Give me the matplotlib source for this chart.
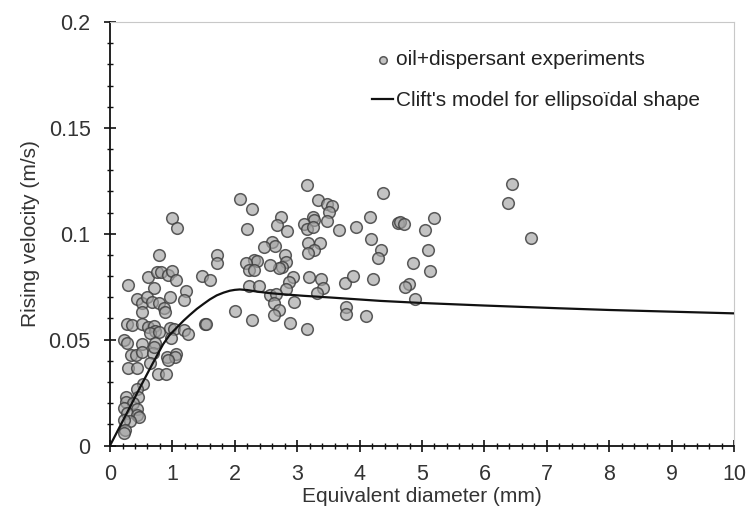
import matplotlib
matplotlib.use('Agg')
import matplotlib.pyplot as plt
from matplotlib.ticker import MultipleLocator

plt.rcParams['font.family'] = ['Liberation Sans', 'DejaVu Sans']

# эксперименты: эквивалентный диаметр (мм) и скорость всплытия (м/с)
diam_mm = [
    1.00, 1.07, 0.79, 0.28, 0.61, 0.76, 0.82, 0.93, 1.00, 1.06,
    0.705, 0.44, 0.51, 0.59, 0.68, 0.79, 0.865, 0.88, 0.96, 0.51,
    1.22, 1.19, 1.52, 0.27, 0.35, 0.51, 0.61, 0.70, 0.72, 0.64,
    0.79, 0.96, 1.03, 0.97, 1.19, 1.245, 0.22, 0.27, 0.52, 0.72,
    0.33, 0.42, 0.51, 0.69, 0.70, 0.91, 1.06, 1.04, 0.93, 0.64,
    0.29, 0.43, 0.77, 0.90, 0.53, 0.43, 0.26, 0.45, 0.26, 0.37,
    0.22, 0.44, 0.27, 0.44, 0.47, 0.32, 0.22, 0.24, 0.22,
    1.47, 1.61, 1.71, 1.72,
    3.15, 2.08, 2.28, 4.37, 3.34, 3.47, 3.55, 3.51, 3.47, 3.26,
    3.27, 3.11, 3.15, 3.26, 2.74, 2.67, 2.83, 2.19, 3.67, 3.94,
    4.17, 4.18, 4.35, 4.29, 4.62, 2.60, 2.64, 2.46, 3.18, 3.37,
    3.27, 3.17, 2.80, 2.82, 2.75, 2.70, 2.56, 2.31, 2.36, 2.18,
    2.23, 2.30, 2.93, 2.87, 2.82, 2.22, 2.39, 3.19, 3.38, 3.41,
    3.31, 3.77, 3.90, 4.22, 2.56, 2.66, 2.63, 2.95, 2.71, 2.63,
    3.78, 3.78, 4.10, 2.00, 2.27, 1.54, 2.89, 3.15,
    6.45, 6.38, 6.74, 4.65, 4.71, 5.19, 5.04, 5.09, 4.86, 5.12,
    4.79, 4.73, 4.88,
]
velocity_ms = [
    0.1076, 0.1029, 0.0899, 0.0757, 0.0796, 0.0820, 0.0820, 0.0804, 0.0825, 0.0781,
    0.0744, 0.0690, 0.0674, 0.0702, 0.0677, 0.0674, 0.0647, 0.0632, 0.0702, 0.0631,
    0.0730, 0.0686, 0.0573, 0.0573, 0.0569, 0.0573, 0.0560, 0.0563, 0.0542, 0.0533,
    0.0538, 0.0553, 0.0549, 0.0510, 0.0546, 0.0527, 0.0498, 0.0482, 0.0479, 0.0482,
    0.0427, 0.0427, 0.0443, 0.0438, 0.0463, 0.0419, 0.0434, 0.0419, 0.0404, 0.0388,
    0.0364, 0.0364, 0.0340, 0.0340, 0.0290, 0.0267, 0.0230, 0.0228, 0.0205, 0.0199,
    0.0179, 0.0171, 0.0152, 0.0144, 0.0136, 0.0118, 0.0121, 0.0075, 0.0059,
    0.0800, 0.0780, 0.0899, 0.0861,
    0.1232, 0.1166, 0.1119, 0.1194, 0.1161, 0.1142, 0.1130, 0.1103, 0.1059, 0.1080,
    0.1064, 0.1047, 0.1024, 0.1032, 0.1080, 0.1043, 0.1013, 0.1024, 0.1019, 0.1032,
    0.1080, 0.0974, 0.0922, 0.0886, 0.1051, 0.0961, 0.0941, 0.0938, 0.0954, 0.0957,
    0.0925, 0.0909, 0.0898, 0.0867, 0.0843, 0.0840, 0.0851, 0.0877, 0.0870, 0.0860,
    0.0828, 0.0831, 0.0796, 0.0773, 0.0738, 0.0752, 0.0752, 0.0796, 0.0785, 0.0746,
    0.0722, 0.0768, 0.0799, 0.0788, 0.0710, 0.0717, 0.0673, 0.0677, 0.0639, 0.0615,
    0.0655, 0.0623, 0.0613, 0.0634, 0.0592, 0.0573, 0.0580, 0.0548,
    0.1237, 0.1145, 0.0982, 0.1054, 0.1045, 0.1074, 0.1020, 0.0922, 0.0864, 0.0825,
    0.0765, 0.0750, 0.0690,
]

# модель Клифта (эллипсоидальная форма)
model_d = [0, 0.25, 0.5, 0.67, 0.78, 0.85, 0.95, 1.07, 1.18, 1.28, 1.39, 1.5, 1.6, 1.71, 1.82,
           1.92, 2.0, 2.08, 2.2, 2.35, 2.55, 2.78, 3.1, 3.53, 4.33, 5.0, 6.0, 7.2, 8.0, 9.0, 10.0]
model_v = [0, 0.0142, 0.0285, 0.0380, 0.0440, 0.0478, 0.0520, 0.0557, 0.0590, 0.0617, 0.0645,
           0.0669, 0.0690, 0.0709, 0.0722, 0.0731, 0.0735, 0.0737, 0.0734, 0.0727, 0.0720,
           0.0714, 0.0707, 0.0699, 0.0683, 0.0673, 0.0661, 0.0648, 0.0640, 0.0632, 0.0624]

fig = plt.figure(figsize=(7.47, 5.07), dpi=100)
ax = fig.add_axes([0.1473, 0.1213, 0.8353, 0.8353])

ax.scatter(diam_mm, velocity_ms, s=70, facecolor=(0.64, 0.64, 0.64, 0.65),
           edgecolor=(0.25, 0.25, 0.25, 0.85), linewidth=1.1, zorder=3,
           label='oil+dispersant experiments')
ax.plot(model_d, model_v, color='#111111', lw=1.6, zorder=4,
        label="Clift's model for ellipsoïdal shape")

ax.set_xlim(0, 10)
ax.set_ylim(0, 0.2)
ax.xaxis.set_major_locator(MultipleLocator(1))
ax.xaxis.set_minor_locator(MultipleLocator(0.2))
ax.yaxis.set_minor_locator(MultipleLocator(0.01))
ax.set_yticks([0, 0.05, 0.1, 0.15, 0.2])
ax.set_yticklabels(['0', '0.05', '0.1', '0.15', '0.2'])

ax.tick_params(which='major', direction='inout', length=8, width=1.2, labelsize=15.5,
               colors='#111111', labelcolor='#333333')
ax.tick_params(axis='x', which='major', pad=9)
ax.tick_params(axis='y', which='major', pad=10)
ax.tick_params(which='minor', direction='inout', length=4, width=1.0, colors='#111111')

for s in ['left', 'bottom']:
    ax.spines[s].set_linewidth(1.3)
    ax.spines[s].set_color('#111111')
for s in ['top', 'right']:
    ax.spines[s].set_linewidth(0.8)
    ax.spines[s].set_color('#c8c8c8')

ax.set_xlabel('Equivalent diameter (mm)', fontsize=15, color='#333333', labelpad=2)
ax.set_ylabel('Rising velocity (m/s)', fontsize=15, color='#333333', labelpad=6)

leg = ax.legend(loc='upper left', bbox_to_anchor=(0.42, 0.933), frameon=False,
                fontsize=15, handlelength=1.0, handletextpad=0.15, labelspacing=1.05,
                borderpad=0, borderaxespad=0, markerscale=0.65)
for t in leg.get_texts():
    t.set_color('#222222')

fig.savefig('out.png', dpi=100)
